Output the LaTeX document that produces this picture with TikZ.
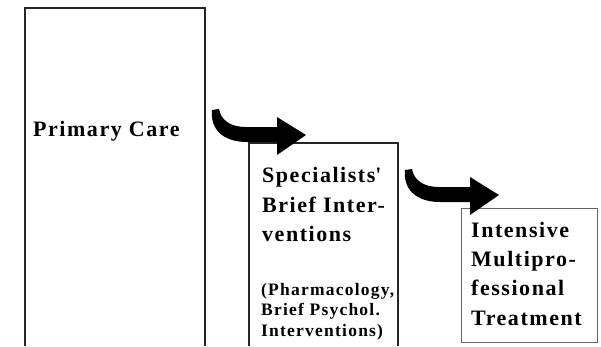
\documentclass[tikz,border=0pt]{standalone}
\usepackage{fontspec}
\setmainfont{Liberation Serif}[LetterSpace=7]
\begin{document}
\begin{tikzpicture}[x=1pt,y=-1pt,
  boxline/.style={draw=black!85,line width=1.2pt},
  boxline3/.style={draw=black!60,line width=1pt},
  big/.style={anchor=base west,inner sep=0pt,font=\bfseries\fontsize{22}{22}\selectfont},
  small/.style={anchor=base west,inner sep=0pt,font=\bfseries\fontsize{17.5}{17.5}\selectfont},
  bigarrow/.pic={
    \fill[black] (0,0) .. controls (-2,20) and (12,32) .. (35,32)
      -- (65,32) -- (65,45) -- (94,25) -- (65,7) -- (65,17) -- (34,17)
      .. controls (18,17) and (9,10) .. (7,-1) -- cycle;
  }]
\useasboundingbox (0,0) rectangle (601,346);
% boxes
\draw[boxline] (25,346) -- (25,8) -- (205,8) -- (205,346);
\draw[boxline] (249,346) -- (249,143) -- (398,143) -- (398,346);
\draw[boxline3] (461,208) rectangle (597,342);
% arrows
\pic at (212,110) {bigarrow};
\pic at (405,170) {bigarrow};
% texts
\node[big] (pc) at (33,136) {Primary Care};
\node[big] (s1) at (262,182) {Specialists\textquotesingle};
\node[big] (s2) at (262,212) {Brief Inter-};
\node[big] (s3) at (262,241) {ventions};
\node[small] (p1) at (261,295) {(Pharmacology,};
\node[small] (p2) at (261,315.5) {Brief Psychol.};
\node[small] (p3) at (261,336) {Interventions)};
\node[big] (i1) at (471,237) {Intensive};
\node[big] (i2) at (471,266) {Multipro-};
\node[big] (i3) at (471,295) {fessional};
\node[big] (i4) at (471,325) {Treatment};
\end{tikzpicture}
\end{document}
